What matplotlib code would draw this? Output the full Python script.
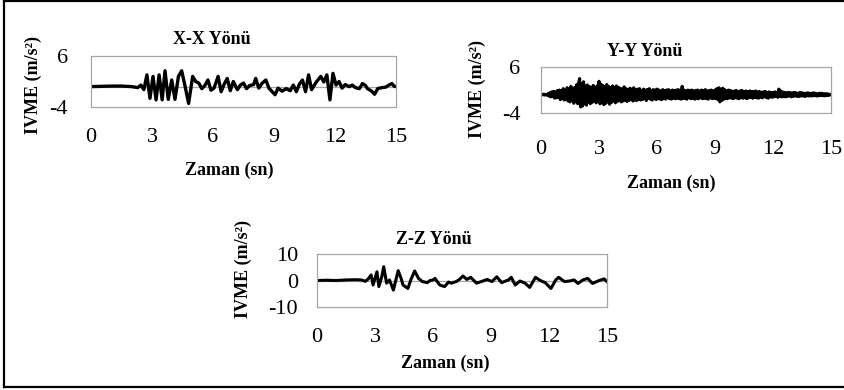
import numpy as np
import matplotlib
matplotlib.use("Agg")
import matplotlib.pyplot as plt
from matplotlib.lines import Line2D

# X-X direction: (time, acceleration) read at the turning points of the trace
x_time = [0, 0.5, 1.0, 1.5, 2.0, 2.3, 2.45, 2.6, 2.75, 2.9, 3.05, 3.2, 3.35, 3.5, 3.64,
          3.8, 3.97, 4.13, 4.3, 4.46, 4.63, 4.8, 5.0, 5.15, 5.3, 5.45, 5.6, 5.75, 5.9,
          6.05, 6.25, 6.4, 6.55, 6.7, 6.85, 7.0, 7.2, 7.35, 7.5, 7.65, 7.8, 8.0, 8.1,
          8.25, 8.4, 8.6, 8.75, 9.05, 9.2, 9.4, 9.6, 9.8, 9.95, 10.1, 10.25, 10.4,
          10.55, 10.7, 10.85, 11.0, 11.1, 11.3, 11.45, 11.6, 11.75, 11.9, 12.05, 12.2,
          12.35, 12.5, 12.7, 12.85, 13.0, 13.2, 13.35, 13.5, 13.6, 13.8, 13.95, 14.1,
          14.3, 14.5, 14.65, 14.8, 14.9, 15.0]
x_acc = [0, 0.05, 0.1, 0.1, 0.0, -0.2, 0.3, -0.6, 2.3, -2.3, 2.0, -2.6, 2.3, -2.6, 3.1,
         -2.5, 1.3, -2.5, 2.0, 3.1, 0.0, -3.3, 2.0, 1.0, 0.7, -0.4, 0.2, 1.3, -0.7,
         -0.3, 2.0, -1.0, 0.5, 1.6, -0.8, 1.0, -0.6, 0.3, 0.7, -0.4, 0.2, 0.4, 1.6,
         -0.3, 0.6, 1.3, -0.3, -1.6, -0.3, -0.9, -0.4, -0.8, 0.3, -1.0, 0.5, 1.3,
         -1.0, 2.3, -0.6, 0.4, 1.0, 2.0, 0.9, 2.3, -2.6, 2.6, 0.3, 1.0,
         -0.3, 0.4, 0.0, 0.3, -0.2, -0.4, 0.6, 0.2, -0.4, -0.9, -1.5, -0.4,
         -0.2, -0.1, 0.3, 0.6, 0.1, 0.0]

# Y-Y direction: read every 0.05 s (one row per second)
y_acc = [
    0, 0.05, -0.05, 0.1, -0.1, 0.05, -0.1, 0.2, -0.3, 0.4, -0.5, 0.6, -0.4, 0.7, -0.8, 0.6, -0.7, 0.9, -0.6, 1.0,
    -1.1, 0.9, -0.8, 1.3, -1.2, 0.8, -1.0, 1.5, -1.4, 1.2, -1.6, 1.8, -1.3, 1.1, -1.9, 1.6, -1.5, 2.2, -2.0, 2.6,
    3.5, -2.7, 2.4, -2.5, 2.8, -2.0, 1.9, -2.3, 2.1, -1.6, 1.8, -2.0, 1.5, -1.7, 2.0, -1.5, 1.6, -1.8, 1.9, -1.4,
    2.9, -2.0, 2.3, -1.8, 2.0, -2.2, 1.7, -1.9, 2.2, -1.6, 1.8, -2.1, 1.5, -1.7, 1.9, -1.4, 1.6, -1.8, 1.9, -1.5,
    1.6, -1.3, 1.4, -1.6, 1.2, -1.4, 1.7, -1.2, 1.3, -1.5, 1.1, -1.3, 1.4, -1.1, 1.2, -1.4, 1.5, -1.2, 1.0, -1.3,
    1.2, -1.0, 1.3, -1.2, 0.9, -1.1, 1.2, -0.9, 1.0, -1.3, 1.1, -0.8, 1.3, -1.0, 0.9, -1.2, 1.1, -0.9, 1.0, -1.1,
    1.2, -0.9, 1.0, -1.0, 0.8, -1.1, 1.1, -0.8, 0.9, -1.0, 1.0, -0.7, 1.1, -0.9, 0.8, -1.0, 1.0, -0.8, 0.9, -0.9,
    1.0, -0.8, 1.1, -0.9, 0.9, -1.0, 1.8, -0.8, 1.0, -0.9, 0.8, -1.0, 1.0, -0.7, 0.9, -0.9, 1.0, -0.8, 0.8, -1.0,
    0.9, -0.8, 1.0, -0.9, 0.8, -0.7, 1.0, -0.9, 0.9, -0.8, 1.1, -0.9, 0.8, -1.0, 0.9, -0.7, 1.0, -0.9, 0.8, -0.8,
    1.0, -0.9, 1.3, -1.1, 1.5, -1.6, 1.2, -1.3, 1.4, -1.0, 1.1, -0.9, 0.8, -0.9, 1.0, -0.7, 0.9, -0.8, 0.7, -0.9,
    0.8, -0.7, 0.9, -0.8, 0.7, -0.9, 0.8, -0.6, 0.9, -0.8, 0.7, -0.7, 0.8, -0.9, 0.6, -0.7, 0.8, -0.6, 0.7, -0.8,
    0.7, -0.6, 0.8, -0.7, 0.6, -0.8, 0.7, -0.6, 0.5, -0.7, 0.6, -0.5, 0.7, -0.6, 0.5, -0.8, 0.6, -0.5, 0.4, -0.6,
    0.5, -0.5, 0.6, -0.4, 0.5, -0.6, 1.2, -0.4, 0.8, -0.5, 0.6, -0.4, 0.5, -0.5, 0.4, -0.4, 0.5, -0.3, 0.4, -0.5,
    0.4, -0.4, 0.5, -0.3, 0.4, -0.4, 0.3, -0.4, 0.5, -0.3, 0.4, -0.3, 0.3, -0.4, 0.3, -0.3, 0.4, -0.3, 0.3, -0.3,
    0.3, -0.3, 0.4, -0.2, 0.3, -0.3, 0.2, -0.3, 0.3, -0.2, 0.3, -0.2, 0.2, -0.3, 0.2, -0.2, 0.2, -0.2, 0.1, -0.1,
    0.0,
]
y_time = np.linspace(0, 15, len(y_acc))

# Z-Z direction: (time, acceleration) at turning points
z_time = [0, 0.5, 1.0, 1.5, 2.0, 2.3, 2.5, 2.65, 2.8, 2.9, 3.1, 3.2, 3.35, 3.45, 3.6, 3.75,
          3.95, 4.2, 4.35, 4.45, 4.7, 4.85, 5.05, 5.25, 5.45, 5.7, 5.85, 6.0, 6.1, 6.35,
          6.6, 6.8, 6.95, 7.2, 7.35, 7.55, 7.75, 7.95, 8.25, 8.5, 8.8, 9.05, 9.3, 9.55,
          9.9, 10.05, 10.25, 10.5, 10.76, 11.0, 11.3, 11.55, 11.8, 12.1, 12.35, 12.5,
          12.8, 13.05, 13.3, 13.5, 13.75, 14.0, 14.25, 14.6, 14.85, 15.0]
z_acc = [0, 0.1, 0.0, 0.2, 0.3, 0.2, -0.3, 0.6, 2.1, -1.7, 3.3, -2.3, 1.4, 5.2, -1.0, 0.2,
         -3.6, 3.7, 0.8, -1.7, -3.0, 0.2, 3.6, 0.8, -0.4, -0.8, 0.0, 0.2, 0.8, -1.7,
         -2.3, -0.6, -1.0, -0.4, 0.3, 1.7, 0.4, 1.2, -1.0, -0.4, 0.4, -0.4, 1.4, -0.8,
         0.2, 1.2, -1.7, -0.2, -1.0, -2.6, 1.2, 0.0, -0.8, -3.0, 0.2, 1.2,
         -0.4, -0.2, 0.2, -1.1, 0.2, 0.8, -1.1, 0.0, 0.6, -0.4]

x_ticks = [0, 3, 6, 9, 12, 15]
ylim_xy = (-4, 6)
ylim_z = (-10, 10)
ticks_xy = [-4, 6]
ticks_z = [-10, 0, 10]

W, H = 845, 390
plt.rcParams['font.family'] = ['Liberation Serif', 'DejaVu Serif']

fig = plt.figure(figsize=(W / 100, H / 100), dpi=100)


def box(l, t, r, b):
    return [l / W, 1 - b / H, (r - l) / W, (b - t) / H]


def px(x, y):
    return x / W, 1 - y / H


def panel(rect, t, a, ylim, yticks, xpad, ypad, title, tpos, ypos, xlpos, lw):
    ax = fig.add_axes(box(*rect))
    ax.axhline(0, color='#a6a6a6', lw=0.9, zorder=1)
    ax.plot(t, a, color='black', lw=lw, zorder=2, solid_joinstyle='round')
    ax.set_xlim(0, 15)
    ax.set_ylim(*ylim)
    ax.set_xticks(x_ticks)
    ax.set_xticklabels([str(v) for v in x_ticks])
    ax.set_yticks(yticks)
    ax.set_yticklabels([str(v) for v in yticks])
    ax.tick_params(axis='x', length=0, pad=xpad, labelsize=16)
    ax.tick_params(axis='y', length=0, pad=ypad, labelsize=16)
    for s in ax.spines.values():
        s.set_color('#a6a6a6')
        s.set_linewidth(0.9)
    fig.text(*px(*tpos), title, ha='center', va='center', fontsize=13, fontweight='bold')
    fig.text(*px(*ypos), 'IVME (m/s²)', ha='center', va='center', rotation=90,
             fontsize=13, fontweight='bold')
    fig.text(*px(*xlpos), 'Zaman (sn)', ha='center', va='center', fontsize=13,
             fontweight='bold')
    return ax


panel((91, 56, 396, 107), x_time, x_acc, ylim_xy, ticks_xy, 15, 16.5,
      'X-X Yönü', (212, 40), (33, 85), (229, 170), 2.4)
panel((541, 67, 831, 113), y_time, y_acc, ylim_xy, ticks_xy, 19.5, 15,
      'Y-Y Yönü', (645, 52), (477, 89), (671, 183), 2.2)
panel((317, 254, 607, 307), z_time, z_acc, ylim_z, ticks_z, 15, 13.7,
      'Z-Z Yönü', (434, 240), (243, 269), (445, 363), 2.2)

# outer frame (left, top and bottom edges only, right edge is cut off)
fig.add_artist(Line2D([4 / W, 4 / W], [1 - 387 / H, 1 - 1 / H], color='black', lw=1.6,
                      transform=fig.transFigure))
fig.add_artist(Line2D([4 / W, 1], [1 - 1 / H, 1 - 1 / H], color='black', lw=1.6,
                      transform=fig.transFigure))
fig.add_artist(Line2D([4 / W, 1], [1 - 387 / H, 1 - 387 / H], color='black', lw=1.6,
                      transform=fig.transFigure))

fig.savefig('out.png', dpi=100)
